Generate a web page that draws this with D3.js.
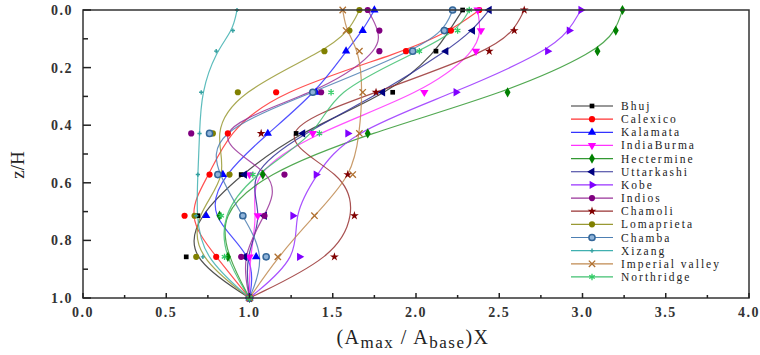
<!DOCTYPE html>
<html>
<head>
<meta charset="utf-8">
<script src="https://cdn.jsdelivr.net/npm/d3@7"></script>
<style>
  body { margin: 0; background: #fff; }
  svg { display: block; }
  text { font-family: "Liberation Serif", "Times New Roman", serif; }
</style>
</head>
<body>
<div id="chart"></div>
<script>
// depth levels z/H where the values were sampled
const levels = [0, 0.0714, 0.1429, 0.2857, 0.4286, 0.5714, 0.7143, 0.8571, 1.0];

const bhuj       = [2.28, 2.20, 2.12, 1.86, 1.28, 0.95, 0.69, 0.62, 1.0];
const calexico   = [2.38, 2.21, 1.94, 1.16, 0.87, 0.76, 0.61, 0.80, 1.0];
const kalamata   = [1.75, 1.68, 1.58, 1.40, 1.11, 0.84, 0.74, 1.04, 1.0];
const indiaBurma = [2.37, 2.39, 2.36, 2.05, 1.38, 1.00, 1.05, 1.00, 1.0];
const hectermine = [3.24, 3.20, 3.09, 2.55, 1.71, 1.08, 0.82, 0.87, 1.0];
const uttarkashi = [2.44, 2.34, 2.18, 1.80, 1.32, 0.97, 1.09, 0.97, 1.0];
const kobe       = [2.99, 2.92, 2.79, 2.24, 1.59, 1.40, 1.26, 1.30, 1.0];
const indios     = [1.71, 1.78, 1.78, 1.43, 0.65, 1.21, 1.09, 0.95, 1.0];
const chamoli    = [2.65, 2.59, 2.44, 1.76, 1.07, 1.59, 1.63, 1.51, 1.0];
const lomaprieta = [1.66, 1.60, 1.45, 0.93, 0.78, 0.88, 0.67, 0.68, 1.0];
const chamba     = [2.22, 2.17, 1.98, 1.38, 0.76, 0.81, 0.96, 1.10, 1.0];
const xizang     = [0.925, 0.90, 0.80, 0.71, 0.70, 0.69, 0.68, 0.72, 1.0];
const imperial   = [1.56, 1.58, 1.66, 1.68, 1.66, 1.62, 1.39, 1.17, 1.0];
const northridge = [2.32, 2.25, 2.02, 1.49, 1.42, 1.02, 0.83, 0.85, 1.0];

const names = ['Bhuj', 'Calexico', 'Kalamata', 'IndiaBurma', 'Hectermine', 'Uttarkashi', 'Kobe',
  'Indios', 'Chamoli', 'Lomaprieta', 'Chamba', 'Xizang', 'Imperial valley', 'Northridge'];
const values = [bhuj, calexico, kalamata, indiaBurma, hectermine, uttarkashi, kobe,
  indios, chamoli, lomaprieta, chamba, xizang, imperial, northridge];

const xTicks = [0, 0.5, 1, 1.5, 2, 2.5, 3, 3.5, 4];
const yTicks = [0, 0.2, 0.4, 0.6, 0.8, 1.0];

// look of each series: colour and marker
const styles = [
  { color: '#000000', line: '#333333', shape: d3.symbolSquare, size: 22 },
  { color: '#ff0000', line: '#ff3333', shape: d3.symbolCircle, size: 30 },
  { color: '#0000ff', line: '#3333ff', shape: d3.symbolTriangle, size: 30 },
  { color: '#ff00ff', line: '#ff33ff', shape: d3.symbolTriangle, size: 30, rot: 180 },
  { color: '#008000', line: '#339933', shape: d3.symbolDiamond, size: 30 },
  { color: '#000080', line: '#333399', shape: d3.symbolTriangle, size: 30, rot: -90 },
  { color: '#8000ff', line: '#9933ff', shape: d3.symbolTriangle, size: 30, rot: 90 },
  { color: '#800080', line: '#993399', shape: d3.symbolCircle, size: 30 },
  { color: '#800000', line: '#993333', shape: d3.symbolStar, size: 24 },
  { color: '#808000', line: '#999933', shape: d3.symbolCircle, size: 30 },
  { color: '#336699', line: '#4d7fb3', shape: d3.symbolCircle, size: 30, ring: true },
  { color: '#33a0a0', line: '#40b0b0', shape: d3.symbolCross, size: 10 },
  { color: '#b07030', line: '#c08a50', shape: d3.symbolTimes, size: 28, stroke: true },
  { color: '#33cc66', line: '#40c070', shape: d3.symbolAsterisk, size: 28, stroke: true },
];

const width = 760, height = 355;
const margin = { top: 10, right: 11, bottom: 57, left: 83 };
const w = width - margin.left - margin.right,
  h = height - margin.top - margin.bottom;

const svg = d3.select('#chart').append('svg')
  .attr('width', width)
  .attr('height', height);

const g = svg.append('g')
  .attr('transform', `translate(${margin.left},${margin.top})`);

const x = d3.scaleLinear().domain([0, 4]).range([0, w]);
const y = d3.scaleLinear().domain([0, 1]).range([0, h]);

// curves (smoothed like the original B-spline)
const line = d3.line()
  .x((d) => x(d[0]))
  .y((d) => y(d[1]))
  .curve(d3.curveBasis);

function drawMarker(sel, s, cx, cy) {
  const sym = d3.symbol().type(s.shape).size(s.size);
  const p = sel.append('path')
    .attr('d', sym())
    .attr('transform', `translate(${cx},${cy}) rotate(${s.rot || 0})`);
  if (s.stroke) {
    p.attr('fill', 'none').attr('stroke', s.color).attr('stroke-width', 1.3);
  } else if (s.ring) {
    p.attr('fill', '#8fb3d9').attr('stroke', s.color).attr('stroke-width', 1.5);
  } else {
    p.attr('fill', s.color);
  }
}

values.forEach((vals, i) => {
  const s = styles[i];
  const pts = vals.map((v, j) => [v, levels[j]]);
  g.append('path')
    .datum(pts)
    .attr('d', line)
    .attr('fill', 'none')
    .attr('stroke', s.line)
    .attr('stroke-opacity', 0.85)
    .attr('stroke-width', 1.2);
});

values.forEach((vals, i) => {
  const s = styles[i];
  vals.forEach((v, j) => drawMarker(g, s, x(v), y(levels[j])));
});

// frame
g.append('rect')
  .attr('width', w)
  .attr('height', h)
  .attr('fill', 'none')
  .attr('stroke', '#333')
  .attr('stroke-width', 1.5);

// y axis: ticks inward
const yAxis = g.append('g');
yAxis.selectAll('.ymaj').data(yTicks).enter().append('line')
  .attr('x1', 0).attr('x2', 8)
  .attr('y1', (d) => y(d)).attr('y2', (d) => y(d))
  .attr('stroke', '#222').attr('stroke-width', 1.5);
yAxis.selectAll('.ymin').data(d3.range(0.1, 1, 0.2)).enter().append('line')
  .attr('x1', 0).attr('x2', 5)
  .attr('y1', (d) => y(d)).attr('y2', (d) => y(d))
  .attr('stroke', '#222').attr('stroke-width', 1.5);
yAxis.selectAll('text').data(yTicks).enter().append('text')
  .attr('x', -10)
  .attr('y', (d) => y(d))
  .attr('dy', '0.35em')
  .attr('text-anchor', 'end')
  .style('font-size', '14px')
  .style('font-weight', 'bold')
  .style('letter-spacing', '1.5px')
  .style('fill', '#333')
  .text((d) => d3.format('.1f')(d));

// x axis
const xAxis = g.append('g').attr('transform', `translate(0,${h})`);
xAxis.selectAll('.xmaj').data(xTicks).enter().append('line')
  .attr('x1', (d) => x(d)).attr('x2', (d) => x(d))
  .attr('y1', 0).attr('y2', -5)
  .attr('stroke', '#222').attr('stroke-width', 1.5);
xAxis.selectAll('.xmin').data(d3.range(0.25, 4, 0.5)).enter().append('line')
  .attr('x1', (d) => x(d)).attr('x2', (d) => x(d))
  .attr('y1', 0).attr('y2', -3)
  .attr('stroke', '#222').attr('stroke-width', 1.5);
xAxis.selectAll('text').data(xTicks).enter().append('text')
  .attr('x', (d) => x(d))
  .attr('y', 14)
  .attr('dy', '0.35em')
  .attr('text-anchor', 'middle')
  .style('font-size', '14px')
  .style('font-weight', 'bold')
  .style('letter-spacing', '1.5px')
  .style('fill', '#333')
  .text((d) => d3.format('.1f')(d));

// axis titles
const xt = svg.append('text')
  .attr('x', 413)
  .attr('y', 344)
  .attr('text-anchor', 'middle')
  .style('font-size', '20px')
  .style('letter-spacing', '1.5px')
  .style('fill', '#222');
xt.append('tspan').text('(A');
xt.append('tspan').attr('dy', 4).style('font-size', '17px').text('max');
xt.append('tspan').attr('dy', -4).text(' / A');
xt.append('tspan').attr('dy', 4).style('font-size', '17px').text('base');
xt.append('tspan').attr('dy', -4).text(')X');

svg.append('text')
  .attr('transform', 'translate(24,165) rotate(-90)')
  .attr('text-anchor', 'middle')
  .style('font-size', '19px')
  .style('fill', '#222')
  .text('z/H');

// legend
const legend = svg.append('g');
names.forEach((name, i) => {
  const s = styles[i];
  const ly = 106 + i * 13.15;
  legend.append('line')
    .attr('x1', 571).attr('x2', 613)
    .attr('y1', ly).attr('y2', ly)
    .attr('stroke', s.line).attr('stroke-width', 1.2);
  drawMarker(legend, s, 592, ly);
  legend.append('text')
    .attr('x', 621)
    .attr('y', ly)
    .attr('dy', '0.35em')
    .style('font-size', '11.5px')
    .style('letter-spacing', '2px')
    .style('fill', '#222')
    .text(name);
});
</script>
</body>
</html>
